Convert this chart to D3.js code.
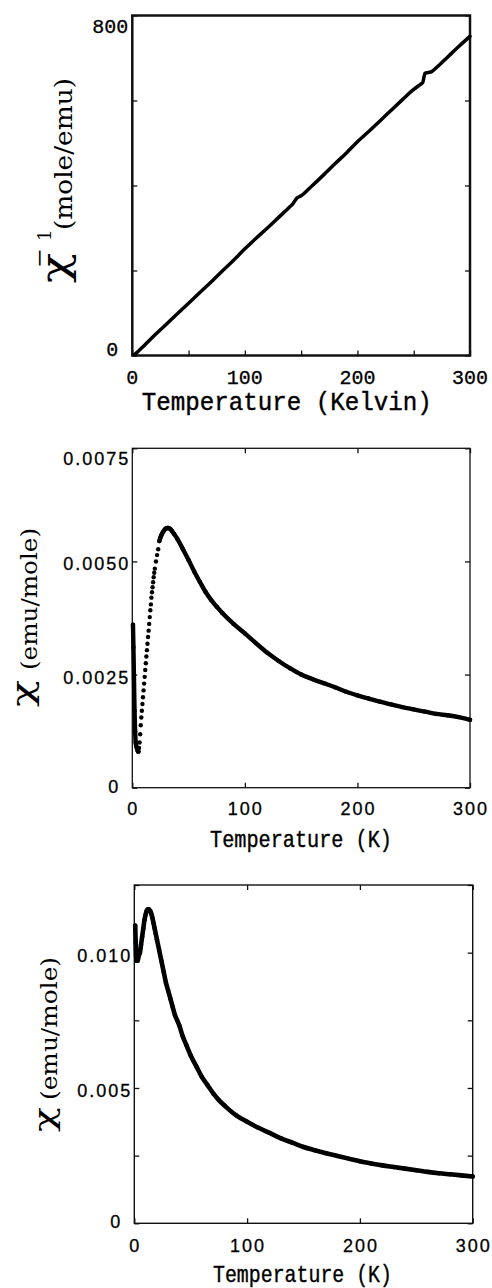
<!DOCTYPE html>
<html>
<head>
<meta charset="utf-8">
<script src="https://cdn.jsdelivr.net/npm/d3@7"></script>
<style>
  body { margin: 0; background: #fff; }
  svg { display: block; }
</style>
</head>
<body>
<div id="chart"></div>
<script>
// ---- data ----
// panel 1: inverse susceptibility vs temperature
const temps1 = [2, 10, 20, 30, 40, 50, 60, 70, 80, 90, 100, 110, 120, 130, 140, 143, 146, 150, 160, 170, 180, 190, 200,
  210, 220, 230, 240, 250, 256, 258, 260, 263, 266, 270, 280, 290, 300];
const invChi1 = [2, 22, 48, 73, 98, 123, 148, 173, 199, 224, 251, 276, 300, 325, 350, 358, 370, 376, 400, 425, 451, 476, 503,
  527, 552, 577, 602, 626, 638, 642, 664, 666, 668, 677, 702, 727, 751];

// panel 2: susceptibility, dip near 5 K and broad maximum near 32 K
const temps2 = [0.6, 1.0, 1.5, 2.0, 2.5, 3.0, 3.5, 4.0, 4.5, 5.0, 5.5, 6.0, 6.5, 7.0, 7.5, 8.0, 8.5, 9.0, 9.5, 10.0,
  10.5, 11.0, 11.5, 12.0, 12.5, 13.0, 13.5, 14.0, 14.5, 15.0, 15.5, 16.0, 16.5, 17.0, 17.5, 18.0, 18.5, 19.0, 19.5, 20.0,
  21, 22, 23, 24, 25, 26, 27, 28, 29, 30, 31, 32, 33, 34, 35, 37, 40, 45, 50, 55, 60, 65, 70, 75, 80, 90,
  100, 110, 120, 130, 140, 150, 160, 170, 180, 190, 200, 210, 220, 230, 240, 250, 260, 270, 280, 290, 300];
const chi2 = [0.0036, 0.0031, 0.0024, 0.0017, 0.00125, 0.00100, 0.00092, 0.00088, 0.00084, 0.00080, 0.00080, 0.00088,
  0.00100, 0.00118, 0.00138, 0.00155, 0.00170, 0.00185, 0.00200, 0.00215, 0.00230, 0.00245, 0.00260, 0.00275, 0.00290,
  0.00304, 0.00318, 0.00333, 0.00347, 0.00362, 0.00377, 0.00392, 0.00405, 0.00420, 0.00432, 0.00443, 0.00454, 0.00465,
  0.00475, 0.00484, 0.00500, 0.00514, 0.00527, 0.00545, 0.00553, 0.00559, 0.00564, 0.00568, 0.00571, 0.00573, 0.00574,
  0.00574, 0.00573, 0.00571, 0.00568, 0.00561, 0.00550, 0.00527, 0.00503, 0.00478, 0.00455, 0.00433, 0.00415, 0.00400,
  0.00386, 0.00362, 0.00341, 0.00319, 0.00298, 0.00280, 0.00264, 0.00250, 0.00240, 0.00231, 0.00222, 0.00212, 0.00204,
  0.00197, 0.00190, 0.00184, 0.00178, 0.00173, 0.00168, 0.00163, 0.00160, 0.00156, 0.00150];

// panel 3: susceptibility, maximum near 12 K
const temps3 = [0.8, 1.2, 1.6, 2, 3, 4, 5, 6, 7, 8, 9, 10, 11, 12, 13, 14, 15, 16, 17, 18, 19, 20, 22, 24, 26, 28, 30,
  32, 34, 36, 38, 40, 43, 46, 50, 55, 60, 65, 70, 75, 80, 90, 100, 110, 120, 130, 140, 150, 160, 170, 180, 190, 200,
  210, 220, 230, 240, 250, 260, 270, 280, 290, 300];
const chi3 = [0.0110, 0.0104, 0.0099, 0.0097, 0.0097, 0.0099, 0.0100, 0.0103, 0.0106, 0.0109, 0.0112, 0.0114, 0.01155,
  0.0116, 0.0116, 0.01155, 0.01145, 0.0113, 0.0111, 0.0109, 0.0107, 0.0105, 0.0101, 0.0097, 0.0093, 0.0089, 0.0086,
  0.0083, 0.0080, 0.0077, 0.0075, 0.0073, 0.0069, 0.0066, 0.0062, 0.0058, 0.0054, 0.0051, 0.0048, 0.00455, 0.00435,
  0.00400, 0.00375, 0.00353, 0.00334, 0.00314, 0.00298, 0.00282, 0.00270, 0.00259, 0.00249, 0.00239, 0.00229, 0.00221,
  0.00214, 0.00208, 0.00202, 0.00196, 0.00190, 0.00185, 0.00181, 0.00177, 0.00173];

// ticks and labels
const xTicks1 = [0, 50, 100, 150, 200, 250, 300];
const xTicks23 = [0, 100, 200, 300];
const xLabels = [0, 100, 200, 300];
const yTicks1 = [0, 200, 400, 600, 800];
const yLabels1 = [0, 800];
const yTicks2 = [0, 0.0025, 0.005, 0.0075];
const yLabels2 = ["0", "0.0025", "0.0050", "0.0075"];
const yTicks3 = [0, 0.0025, 0.005, 0.0075, 0.01, 0.0125];
const yLabels3 = ["0", "0.005", "0.010"];

const width = 492, height = 1288;

const svg = d3.select("#chart")
  .append("svg")
  .attr("width", width)
  .attr("height", height);

function panel(o) {
  const x = d3.scaleLinear().domain([0, 300]).range(o.xr);
  const y = d3.scaleLinear().domain(o.yd).range(o.yr);
  const g = svg.append("g");

  // inward ticks on all four sides
  const tick = 5;
  const axes = [
    [d3.axisBottom(x).tickValues(o.xTicks), `translate(0,${o.yr[0]})`],
    [d3.axisLeft(y).tickValues(o.yTicks), `translate(${o.xr[0]},0)`],
    [d3.axisRight(y).tickValues(o.yTicks), `translate(${o.xr[1]},0)`]
  ];
  if (o.topTicks) axes.push([d3.axisTop(x).tickValues(o.xTicks), `translate(0,${o.yr[1]})`]);
  axes.forEach(([ax, tr]) => {
    const a = g.append("g")
      .attr("transform", tr)
      .call(ax.tickSizeInner(-tick).tickSizeOuter(0).tickFormat(""));
    a.select(".domain").remove();
    a.selectAll("line").attr("stroke", "#111").attr("stroke-width", 1.3);
  });

  // frame
  g.append("rect")
    .attr("x", o.xr[0]).attr("y", o.yr[1])
    .attr("width", o.xr[1] - o.xr[0]).attr("height", o.yr[0] - o.yr[1])
    .attr("fill", "none").attr("stroke", "#111").attr("stroke-width", o.frame);

  // tick labels
  g.selectAll(".xl").data(xLabels).enter().append("text")
    .attr("x", d => x(d) + o.lsp / 2)
    .attr("y", o.xLabelY)
    .attr("text-anchor", "middle")
    .attr("stroke", "#000").attr("stroke-width", 0.3)
    .style("font-family", o.tickFont).style("font-size", o.tickSize + "px")
    .style("letter-spacing", o.lsp + "px")
    .text(d => d);

  g.selectAll(".yl").data(o.yLabels).enter().append("text")
    .attr("x", d => (+d === 0 ? o.xr[0] - 14 : o.xr[0] - 4) + o.lsp)
    .attr("y", d => y(+d) + (+d === 0 ? o.zeroDy : +d === o.yd[1] ? o.topDy : 9))
    .attr("text-anchor", "end")
    .attr("stroke", "#000").attr("stroke-width", 0.3)
    .style("font-family", o.tickFont).style("font-size", o.tickSize + "px")
    .style("letter-spacing", o.lsp + "px")
    .text(d => d);

  // x title
  g.append("text")
    .attr("x", o.xTitle[0]).attr("y", o.xTitle[1])
    .attr("textLength", o.xTitle[2]).attr("lengthAdjust", "spacingAndGlyphs")
    .attr("stroke", "#000").attr("stroke-width", 0.4)
    .style("font-family", "'Liberation Mono', monospace")
    .style("font-size", o.xTitle[3] + "px")
    .text(o.xTitleText);

  // data
  const pts = o.T.map((t, i) => ({t: t, v: o.V[i]}));
  const line = d3.line()
    .defined(o.lineDefined || (() => true))
    .curve(d3.curveMonotoneX)
    .x(d => x(d.t)).y(d => y(d.v));
  g.append("path")
    .datum(pts)
    .attr("d", line)
    .attr("fill", "none")
    .attr("stroke", "#000")
    .attr("stroke-width", o.lineW)
    .attr("stroke-linejoin", "round")
    .attr("stroke-linecap", "round");
  if (o.dotR) {
    g.selectAll(".dot").data(pts).enter().append("circle")
      .attr("cx", d => x(d.t)).attr("cy", d => y(d.v))
      .attr("r", o.dotR).attr("fill", "#000");
  }
  return g;
}

// panel 1
panel({
  xr: [132.3, 470], yr: [355.5, 15.5], yd: [0, 800],
  xTicks: xTicks1, yTicks: yTicks1, yLabels: yLabels1, topTicks: false,
  frame: 2.5, tickFont: "'Liberation Mono', monospace", tickSize: 20, lsp: 0,
  xLabelY: 383.5, zeroDy: 0.5, topDy: 17,
  xTitle: [141.7, 410, 290, 25], xTitleText: "Temperature (Kelvin)",
  T: temps1, V: invChi1, lineW: 3.5, dotR: 0
});

// panel 2
panel({
  xr: [132.3, 470], yr: [787.7, 448.3], yd: [0, 0.0075],
  xTicks: xTicks23, yTicks: yTicks2, yLabels: yLabels2, topTicks: true,
  frame: 1.3, tickFont: "'Liberation Sans', Arial, sans-serif", tickSize: 18, lsp: 2,
  xLabelY: 815, zeroDy: 5, topDy: 16.7,
  xTitle: [210, 847, 182, 24], xTitleText: "Temperature (K)",
  T: temps2, V: chi2, lineW: 4.4, dotR: 2.2,
  lineDefined: d => d.t <= 5.5 || d.t >= 24
});

// panel 3
panel({
  xr: [134.3, 472.7], yr: [1223.3, 885], yd: [0, 0.0125],
  xTicks: xTicks23, yTicks: yTicks3, yLabels: yLabels3, topTicks: true,
  frame: 1.4, tickFont: "'Liberation Sans', Arial, sans-serif", tickSize: 18, lsp: 2,
  xLabelY: 1251.7, zeroDy: 4.7, topDy: 9,
  xTitle: [213, 1282, 179, 24], xTitleText: "Temperature (K)",
  T: temps3, V: chi3, lineW: 4.6, dotR: 2.2
});

// rotated y titles; c = [chi font size, chi baseline shift, chi width]
function yTitle(ox, oy, c, sup, unit, unitStart, unitLen, unitSize) {
  const g = svg.append("g")
    .attr("transform", `translate(${ox},${oy}) rotate(-90)`)
    .style("font-family", "'DejaVu Serif', serif");
  g.append("text").attr("x", 0).attr("y", c[1])
    .attr("textLength", c[2]).attr("lengthAdjust", "spacingAndGlyphs")
    .style("font-size", c[0] + "px").text("χ");
  if (sup) {
    g.append("text").attr("x", 15).attr("y", -26)
      .attr("textLength", 20).attr("lengthAdjust", "spacingAndGlyphs")
      .style("font-size", "20px").text("−");
    g.append("text").attr("x", 42).attr("y", -21)
      .style("font-size", "18px").text("1");
  }
  g.append("text").attr("x", unitStart).attr("y", 0)
    .attr("textLength", unitLen).attr("lengthAdjust", "spacingAndGlyphs")
    .style("font-size", unitSize + "px").text(unit);
}

yTitle(72, 283, [40, -4, 30], true, "(mole/emu)", 53, 152, 24);
yTitle(37, 707, [30, -4, 27], false, "(emu/mole)", 37, 142, 23);
yTitle(57, 1132, [28, -3, 25], false, "(emu/mole)", 32, 143, 23);
</script>
</body>
</html>
